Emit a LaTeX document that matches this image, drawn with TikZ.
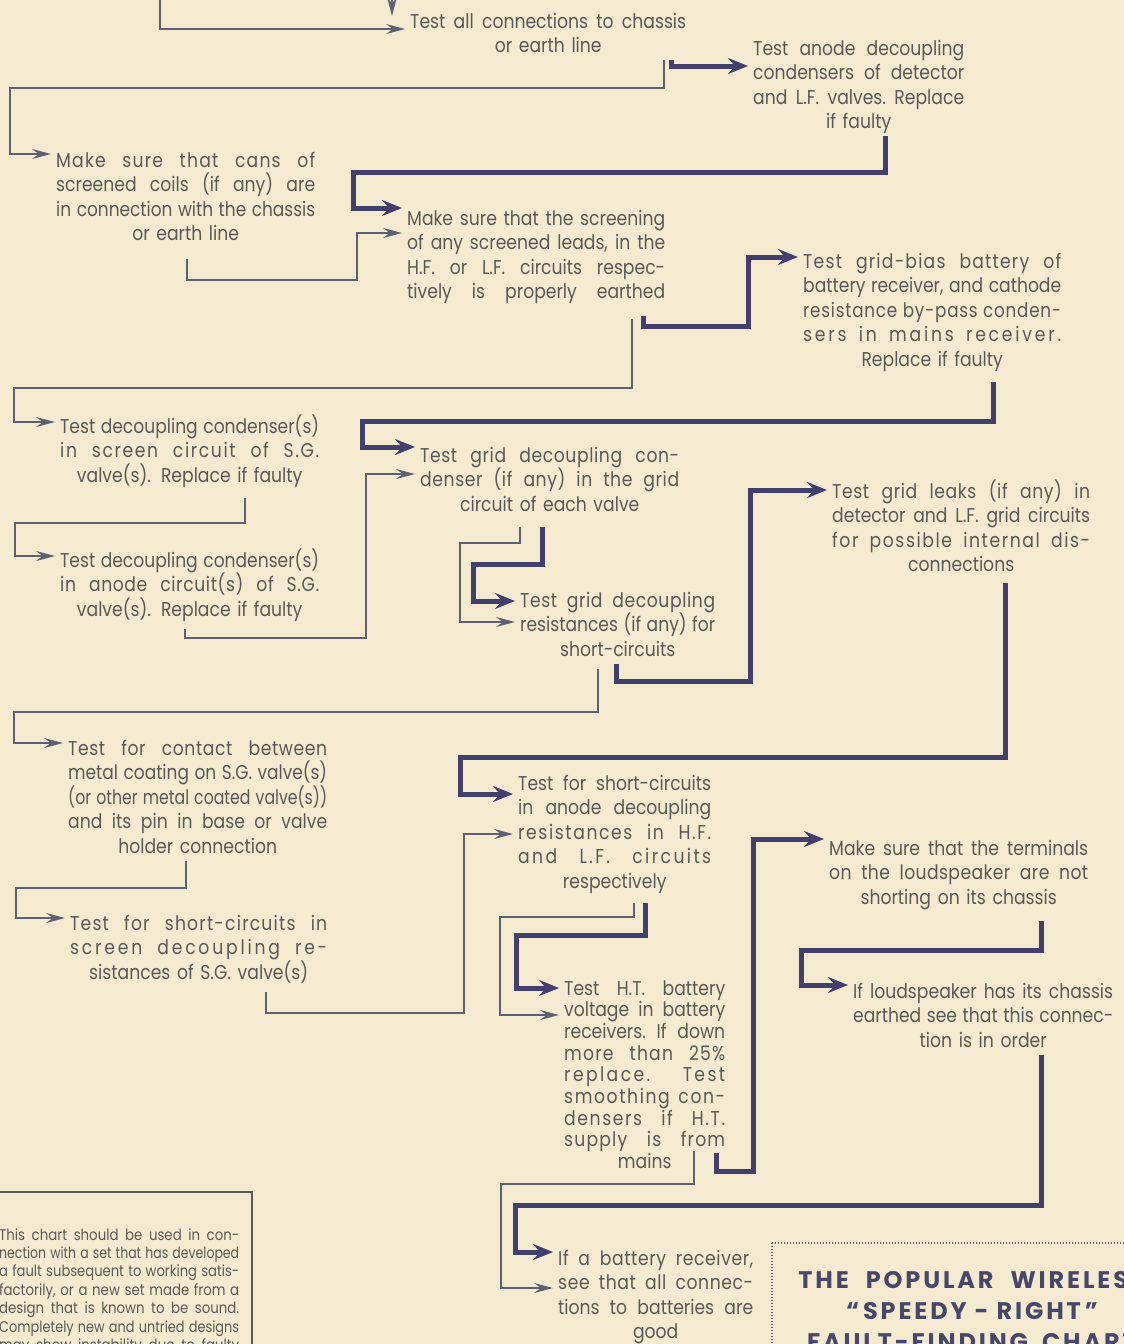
\documentclass[tikz,border=0pt]{standalone}
\usepackage{graphicx}
\usepackage{fontspec}
\setmainfont{Poppins}[FakeStretch=0.86]
\newfontfamily\titlefont{Poppins}[FakeStretch=1.0, LetterSpace=12]
\usetikzlibrary{arrows.meta}
\definecolor{paper}{HTML}{F3EAD0}
\definecolor{ink}{HTML}{5A5955}
\definecolor{fineink}{HTML}{5E5F70}
\definecolor{deepink}{HTML}{423F6C}
\definecolor{titleink}{HTML}{47476A}
\newcommand\jl[2][0]{\sbox0{\addfontfeature{LetterSpace=#1}\spaceskip=.28em plus 1fil minus .1em\xspaceskip=\spaceskip #2}%
    \ifdim\wd0>\linewidth\resizebox{\linewidth}{\height}{\usebox0}\else\makebox[\linewidth][s]{\unhcopy0}\fi}

\begin{document}
\begin{tikzpicture} [x=1pt, y=-1pt,
        item/.style={anchor=base west, text width=#1pt, align=center, inner sep=0pt,
            text=ink, font=\fontsize{20}{24.5}\selectfont, execute at end node=\strut},
        fine/.style={draw=fineink, line width=2pt, shorten >=5pt,
            -{Stealth[length=19pt, width=10pt, inset=7pt]}},
        main/.style={draw=deepink, line width=5pt, shorten >=5pt,
            -{Stealth[length=20pt, width=16pt, inset=7pt]}},
        notebox/.style={draw=ink, line width=1.5pt},
        titlebox/.style={draw=fineink, line width=1.6pt, dash pattern=on 1.2pt off 1.8pt}]
        \useasboundingbox (0,0) rectangle (1124,1344);
        \fill [paper] (0,0) rectangle (1124,1344);
        \clip (0,0) rectangle (1124,1344);

        \node (conn) [item=276] at (410,28) {\jl{Test all connections to chassis}\\ or earth line};
        \node (anode) [item=211] at (753,55) {\jl{Test anode decoupling}\\ \jl{condensers of detector}\\ \jl{and L.F. valves. Replace}\\ if faulty};
        \node (cans) [item=259] at (56,167) {\jl[6]{Make sure that cans of}\\ \jl{screened coils (if any) are}\\ \jl{in connection with the chassis}\\ or earth line};
        \node (screen) [item=258] at (407,225) {\jl{Make sure that the screening}\\ \jl{of any screened leads, in the}\\ \jl{H.F. or L.F. circuits respec-}\\ \jl{tively is properly earthed}};
        \node (bias) [item=258] at (803,268) {\jl[6]{Test grid-bias battery of}\\ \jl{battery receiver, and cathode}\\ \jl[4]{resistance by-pass conden-}\\ \jl[14]{sers in mains receiver.}\\ Replace if faulty};
        \node (scrc) [item=259] at (60,433) {\jl{Test decoupling condenser(s)}\\ \jl[8]{in screen circuit of S.G.}\\ valve(s). Replace if faulty};
        \node (gridc) [item=259] at (420,462) {\jl[3]{Test grid decoupling con-}\\ \jl[3]{denser (if any) in the grid}\\ circuit of each valve};
        \node (anodc) [item=259] at (60,567) {\jl{Test decoupling condenser(s)}\\ \jl[3]{in anode circuit(s) of S.G.}\\ valve(s). Replace if faulty};
        \node (gridr) [item=195] at (520,607) {\jl[3]{Test grid decoupling}\\ \jl{resistances (if any) for}\\ short-circuits};
        \node (leaks) [item=258] at (832,498) {\jl[3]{Test grid leaks (if any) in}\\ \jl{detector and L.F. grid circuits}\\ \jl[8]{for possible internal dis-}\\ connections};
        \node (coat) [item=259] at (68,755) {\jl[3]{Test for contact between}\\ \jl{metal coating on S.G. valve(s)}\\ \jl{(or other metal coated valve(s))}\\ \jl{and its pin in base or valve}\\ holder connection};
        \node (scres) [item=257] at (70,930) {\jl[6]{Test for short-circuits in}\\ \jl[14]{screen decoupling re-}\\ sistances of S.G. valve(s)};
        \node (anres) [item=193] at (518,790) {\jl{Test for short-circuits}\\ \jl{in anode decoupling}\\ \jl[8]{resistances in H.F.}\\ \jl[12]{and L.F. circuits}\\ respectively};
        \node (ht) [item=161, font=\fontsize{20}{21.7}\selectfont] at (564,995) {\jl{Test H.T. battery}\\ \jl{voltage in battery}\\ \jl{receivers. If down}\\ \jl[6]{more than 25\%}\\ \jl[12]{replace. Test}\\ \jl[8]{smoothing con-}\\ \jl[8]{densers if H.T.}\\ \jl[6]{supply is from}\\ mains};
        \node (term) [item=259] at (829,855) {\jl{Make sure that the terminals}\\ \jl[2]{on the loudspeaker are not}\\ shorting on its chassis};
        \node (ls) [item=260] at (853,998) {\jl{If loudspeaker has its chassis}\\ \jl{earthed see that this connec-}\\ tion is in order};
        \node (batt) [item=195] at (558,1265) {\jl[3]{If a battery receiver,}\\ \jl[3]{see that all connec-}\\ \jl{tions to batteries are}\\ good};

        \draw [notebox] (-10,1192) rectangle (252,1420);
        \node (note) [item=240, font=\fontsize{15.5}{18.4}\selectfont] at (-1,1240) {\jl{This chart should be used in con-}\\ \jl{nection with a set that has developed}\\ \jl{a fault subsequent to working satis-}\\ \jl{factorily, or a new set made from a}\\ \jl{design that is known to be sound.}\\ \jl{Completely new and untried designs}\\ \jl{may show instability due to faulty}};

        \draw [titlebox] (772,1243) rectangle (1200,1420);
        \node (title) [anchor=base, text width=440pt, align=center, inner sep=0pt, text=titleink,
            font=\titlefont\bfseries\fontsize{24}{31}\selectfont] at (972,1288)
            {THE\hspace{9pt} POPULAR\hspace{9pt} WIRELESS\\ “\,SPEEDY - RIGHT\,”\\ FAULT-FINDING\hspace{6pt} CHART};

        \coordinate (feed) at (160,0);
        \coordinate (drop) at (392,0);
        \coordinate (dropend) at (392,16);

        \draw [fine, shorten >=0pt] (drop) -- (dropend);
        \draw [fine] (feed) |- (conn.west |- 0,29);
        \draw [fine] (conn.south -| 664,0) |- (10,88) |- (cans.west |- 0,154);
        \draw [main] (conn.south -| 671,0) |- (anode.west |- 0,66);
        \draw [main] (anode.south -| 885,0) |- (353,172) |- (screen.west |- 0,208);
        \draw [fine] (cans.south -| 187,0) ++(0,11) |- (357,280) |- (screen.west |- 0,233);
        \draw [main] (screen.south -| 643,0) ++(0,10) |- (748,326) |- (bias.west |- 0,257);
        \draw [fine] (screen.south -| 632,0) ++(0,13) |- (14,388) |- (scrc.west |- 0,422);
        \draw [main] (bias.south -| 993,0) ++(0,8) |- (362,421) |- (gridc.west |- 0,447);
        \draw [fine] (scrc.south -| 245,0) ++(0,8) |- (15,523) |- (anodc.west |- 0,556);
        \draw [fine] (anodc.south -| 185,0) ++(0,5) |- (366,638) |- (gridc.west |- 0,474);
        \draw [fine] (gridc.south -| 520,0) ++(0,8) |- (460,543) |- (gridr.west |- 0,622);
        \draw [main] (gridc.south -| 542,0) ++(0,8) |- (473,564) |- (gridr.west |- 0,601);
        \draw [main] (gridr.south -| 616,0) |- (750,681) |- (leaks.west |- 0,490);
        \draw [fine] (gridr.south -| 598,0) ++(0,5) |- (14,712) |- (coat.west |- 0,743);
        \draw [main] (leaks.south -| 1005,0) ++(0,4) |- (460,757) |- (anres.west |- 0,794);
        \draw [fine] (coat.south -| 186,0) |- (16,888) |- (scres.west |- 0,918);
        \draw [fine] (scres.south -| 266,0) ++(0,5) |- (464,1013) |- (anres.west |- 0,834);
        \draw [fine] (anres.south -| 634,0) ++(0,7) |- (500,917) |- (ht.west |- 0,1015);
        \draw [main] (anres.south -| 645,0) ++(0,7) |- (516,935) |- (ht.west |- 0,988);
        \draw [main] (ht.south -| 716,0) ++(0,-22) |- (753,1171) |- (term.west |- 0,839);
        \draw [fine] (ht.south -| 694,0) ++(0,-24) |- (501,1184) |- (batt.west |- 0,1288);
        \draw [main] (term.south -| 1041,0) ++(0,9) |- (801,950) |- (ls.west |- 0,985);
        \draw [main] (ls.south -| 1041,0) |- (515,1205) |- (batt.west |- 0,1252);

    \end{tikzpicture}
\end{document}
